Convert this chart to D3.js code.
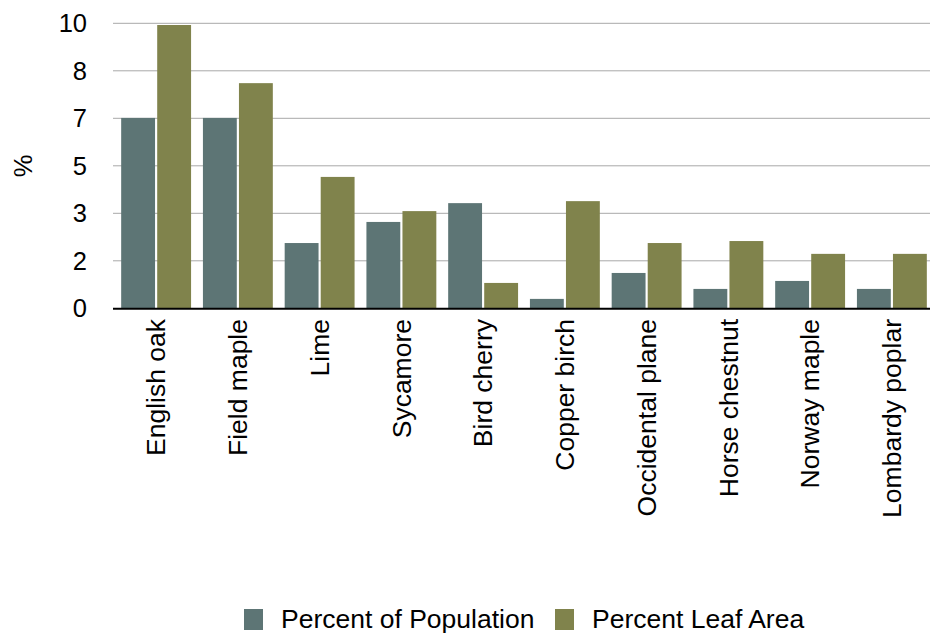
<!DOCTYPE html>
<html>
<head>
<meta charset="utf-8">
<script src="https://cdn.jsdelivr.net/npm/d3@7"></script>
<style>
  html, body { margin: 0; padding: 0; background: #fff; }
  svg { display: block; font-family: "Liberation Sans", Arial, Helvetica, sans-serif; }
</style>
</head>
<body>
<svg id="chart" width="930" height="633"></svg>
<script>
// Tree species surveyed
const categories = ["English oak", "Field maple", "Lime", "Sycamore", "Bird cherry",
  "Copper birch", "Occidental plane", "Horse chestnut", "Norway maple", "Lombardy poplar"];

// Series values (%)
const percentPopulation = [6.68, 6.68, 2.29, 3.03, 3.69, 0.33, 1.24, 0.68, 0.96, 0.68];
const percentLeafArea   = [9.94, 7.90, 4.61, 3.41, 0.89, 3.76, 2.29, 2.36, 1.91, 1.91];

const seriesNames = ["Percent of Population", "Percent Leaf Area"];
const seriesColors = ["#5d7575", "#80834c"];

// Y axis: six equal steps from 0 to 10, labels rounded to whole numbers
const yMax = 10;
const tickValues = d3.range(0, 7).map(i => i * yMax / 6);
const tickLabels = ["0", "2", "3", "5", "7", "8", "10"];

const svg = d3.select("#chart");
const plotLeft = 113, plotRight = 935, plotTop = 23.3, plotBottom = 308.3;

const x = d3.scaleBand().domain(categories).range([plotLeft, plotRight])
  .paddingInner(0.145).paddingOuter(0.1);
const xSub = d3.scaleBand().domain(seriesNames).range([0, x.bandwidth()]).paddingInner(0.06);
const y = d3.scaleLinear().domain([0, yMax]).range([plotBottom, plotTop]);

// Gridlines
svg.append("g").selectAll("line").data(tickValues.slice(1)).join("line")
  .attr("x1", plotLeft).attr("x2", 930)
  .attr("y1", d => y(d)).attr("y2", d => y(d))
  .attr("stroke", "#a8a8a8").attr("stroke-width", 1);

// Y tick labels
svg.append("g").selectAll("text").data(tickValues).join("text")
  .attr("x", 87).attr("y", d => y(d))
  .attr("dy", "0.35em").attr("text-anchor", "end")
  .attr("font-size", 25.5).attr("fill", "#000")
  .text((d, i) => tickLabels[i]);

// Y axis title
svg.append("text")
  .attr("transform", "translate(23,166) rotate(-90)")
  .attr("text-anchor", "middle").attr("dy", "0.35em")
  .attr("font-size", 25.5).text("%");

// Bars
const rows = categories.map((c, i) => ({ c, vals: [percentPopulation[i], percentLeafArea[i]] }));
const groups = svg.append("g").selectAll("g").data(rows).join("g")
  .attr("transform", d => `translate(${x(d.c)},0)`);
groups.selectAll("rect").data(d => d.vals.map((v, k) => ({ v, k }))).join("rect")
  .attr("x", d => xSub(seriesNames[d.k]))
  .attr("width", xSub.bandwidth())
  .attr("y", d => y(d.v))
  .attr("height", d => y(0) - y(d.v))
  .attr("fill", d => seriesColors[d.k]);

// Baseline
svg.append("line")
  .attr("x1", plotLeft).attr("x2", 930)
  .attr("y1", plotBottom + 0.5).attr("y2", plotBottom + 0.5)
  .attr("stroke", "#000").attr("stroke-width", 2);

// Category labels, rotated
svg.append("g").selectAll("text").data(categories).join("text")
  .attr("transform", d => `translate(${x(d) + x.bandwidth() / 2},319) rotate(-90)`)
  .attr("text-anchor", "end").attr("dy", "0.35em")
  .attr("font-size", 26.5).text(d => d);

// Legend
const legendX = [244, 555];
const legend = svg.append("g").selectAll("g").data(seriesNames).join("g")
  .attr("transform", (d, i) => `translate(${legendX[i]},0)`);
legend.append("rect").attr("x", 0).attr("y", 609).attr("width", 19).attr("height", 21)
  .attr("fill", (d, i) => seriesColors[i]);
legend.append("text").attr("x", 37).attr("y", 628)
  .attr("font-size", 26.5).text(d => d);
</script>
</body>
</html>
